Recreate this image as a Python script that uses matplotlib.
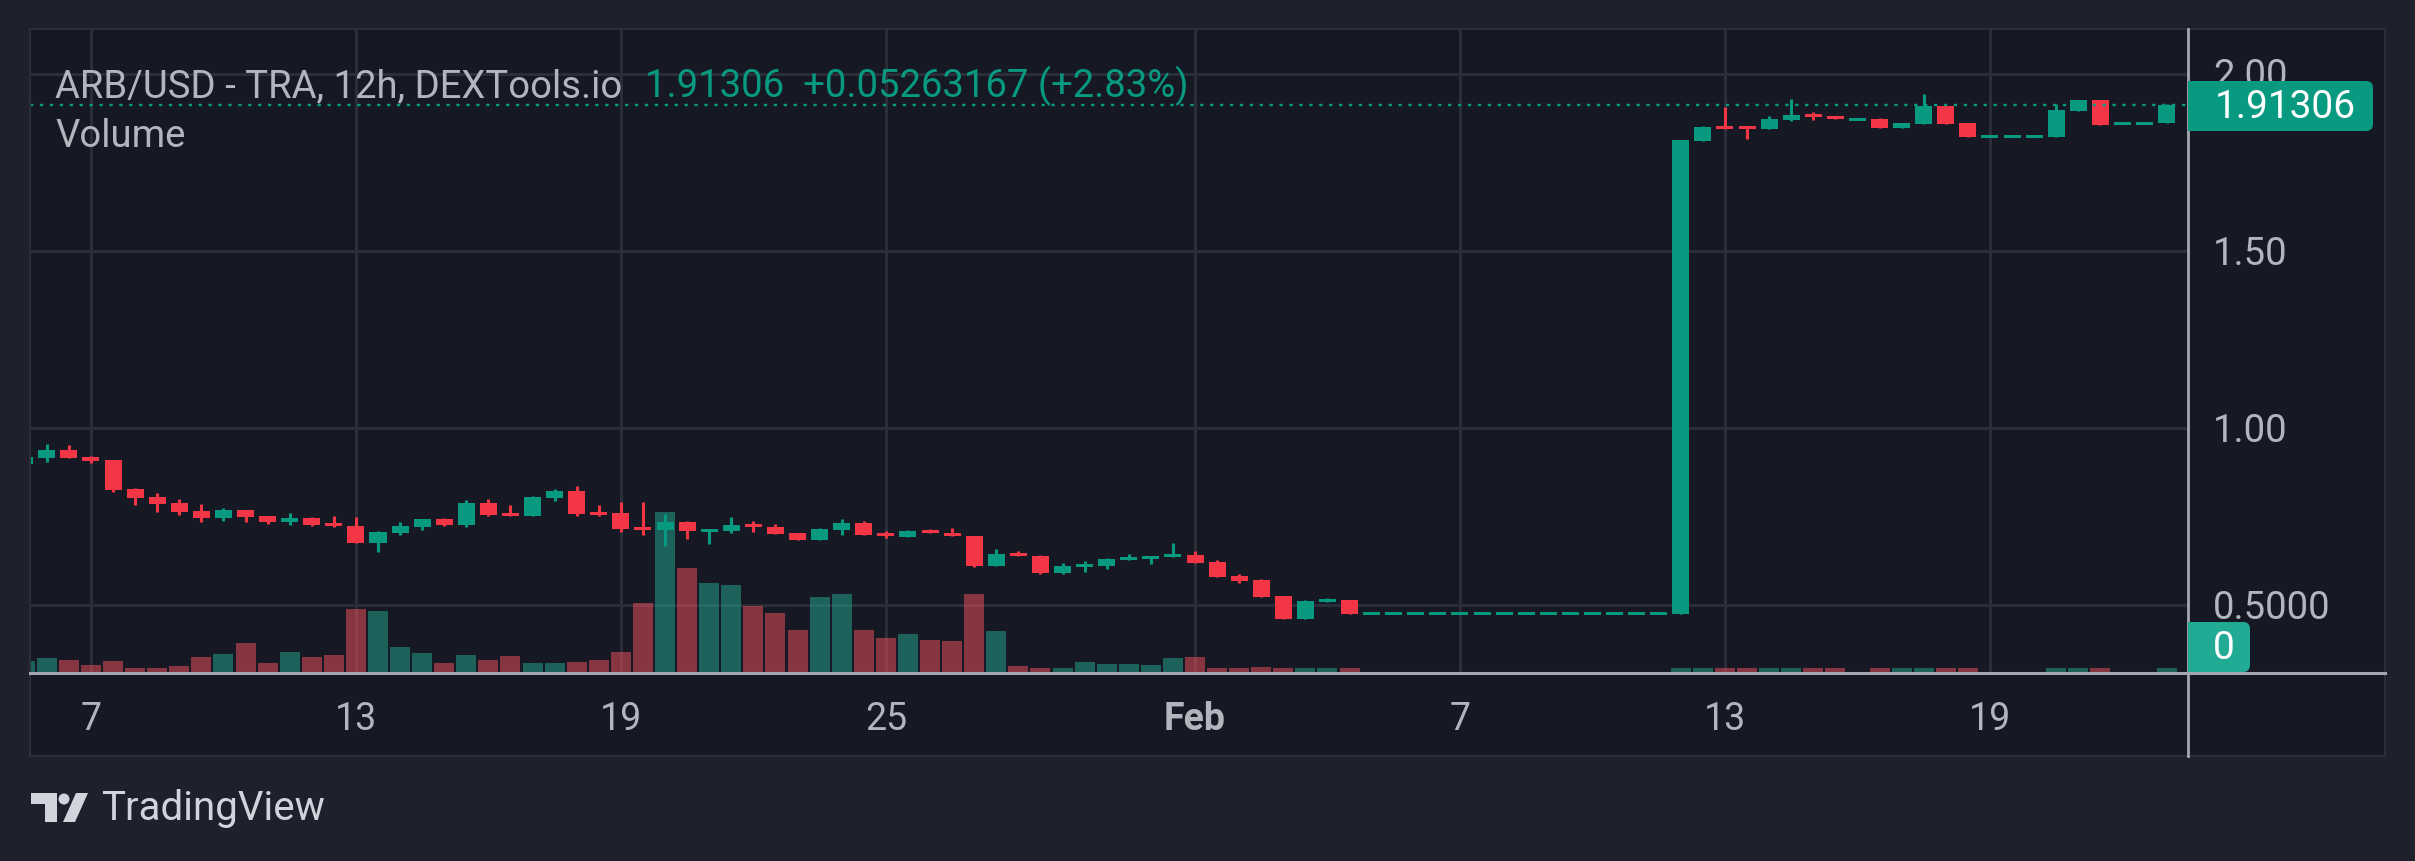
import numpy as np
import pandas as pd
import matplotlib
matplotlib.use('Agg')
import matplotlib.pyplot as plt
import matplotlib.dates as mdates
import matplotlib.transforms as mtransforms
from matplotlib.patches import Rectangle, FancyBboxPatch, Polygon, Circle
from matplotlib.lines import Line2D

# 12h candles, first one opens 2024-01-05 12:00
first_candle = '2024-01-05 12:00'

opens = [0.899, 0.916, 0.938,
         0.918, 0.910, 0.828, 0.805, 0.788, 0.766, 0.746, 0.768, 0.751, 0.735, 0.746, 0.732,
         0.723, 0.675, 0.703, 0.720, 0.743, 0.726, 0.788, 0.760, 0.751, 0.802, 0.822, 0.763,
         0.760, 0.720, 0.712, 0.735, 0.706, 0.709, 0.729, 0.720, 0.703, 0.684, 0.712, 0.732,
         0.703, 0.692, 0.712, 0.703, 0.695, 0.610, 0.647, 0.638, 0.590, 0.607, 0.610, 0.627,
         0.630, 0.636, 0.641, 0.622, 0.582, 0.571, 0.525, 0.461, 0.509, 0.514, 0.4755, 0.4755,
         0.4755, 0.4755, 0.4755, 0.4755, 0.4755, 0.4755, 0.4755, 0.4755, 0.4755, 0.4755, 0.4755, 0.4755,
         0.4755, 1.811, 1.853, 1.853, 1.845, 1.870, 1.887, 1.881, 1.872, 1.873, 1.848, 1.859,
         1.910, 1.862, 1.823, 1.823, 1.823, 1.822, 1.896, 1.927, 1.8604, 1.8604, 1.8604]

highs = [0.920, 0.955, 0.952,
         0.922, 0.911, 0.831, 0.816, 0.799, 0.785, 0.774, 0.769, 0.752, 0.760, 0.749, 0.751,
         0.749, 0.709, 0.735, 0.743, 0.746, 0.797, 0.799, 0.783, 0.808, 0.828, 0.836, 0.783,
         0.791, 0.791, 0.757, 0.737, 0.715, 0.749, 0.737, 0.729, 0.703, 0.718, 0.743, 0.737,
         0.709, 0.712, 0.715, 0.718, 0.695, 0.658, 0.653, 0.641, 0.619, 0.624, 0.633, 0.644,
         0.638, 0.675, 0.653, 0.627, 0.588, 0.573, 0.525, 0.514, 0.520, 0.514, 0.4755, 0.4755,
         0.4755, 0.4755, 0.4755, 0.4755, 0.4755, 0.4755, 0.4755, 0.4755, 0.4755, 0.4755, 0.4755, 0.4755,
         1.814, 1.853, 1.907, 1.853, 1.881, 1.929, 1.893, 1.881, 1.872, 1.876, 1.862, 1.944,
         1.910, 1.862, 1.823, 1.823, 1.823, 1.915, 1.927, 1.927, 1.8604, 1.8604, 1.915]

lows = [0.897, 0.905, 0.915,
        0.901, 0.819, 0.783, 0.763, 0.754, 0.735, 0.737, 0.735, 0.729, 0.726, 0.723, 0.720,
        0.674, 0.650, 0.698, 0.712, 0.723, 0.720, 0.751, 0.751, 0.751, 0.794, 0.751, 0.751,
        0.706, 0.698, 0.667, 0.686, 0.672, 0.703, 0.706, 0.700, 0.684, 0.684, 0.698, 0.698,
        0.689, 0.692, 0.703, 0.695, 0.607, 0.610, 0.638, 0.588, 0.588, 0.593, 0.602, 0.627,
        0.616, 0.636, 0.619, 0.579, 0.562, 0.523, 0.461, 0.461, 0.509, 0.475, 0.4755, 0.4755,
        0.4755, 0.4755, 0.4755, 0.4755, 0.4755, 0.4755, 0.4755, 0.4755, 0.4755, 0.4755, 0.4755, 0.4755,
        0.4755, 1.811, 1.845, 1.816, 1.845, 1.867, 1.870, 1.873, 1.872, 1.848, 1.848, 1.859,
        1.859, 1.822, 1.823, 1.823, 1.823, 1.822, 1.896, 1.856, 1.8604, 1.8604, 1.8604]

closes = [0.917, 0.938, 0.916,
          0.908, 0.825, 0.802, 0.785, 0.763, 0.746, 0.768, 0.749, 0.735, 0.746, 0.726, 0.723,
          0.675, 0.706, 0.723, 0.743, 0.726, 0.788, 0.754, 0.751, 0.805, 0.822, 0.757, 0.754,
          0.715, 0.712, 0.735, 0.709, 0.715, 0.726, 0.720, 0.701, 0.684, 0.715, 0.732, 0.698,
          0.695, 0.709, 0.703, 0.695, 0.610, 0.644, 0.638, 0.590, 0.610, 0.616, 0.630, 0.636,
          0.638, 0.644, 0.619, 0.579, 0.568, 0.523, 0.461, 0.511, 0.517, 0.475, 0.4755, 0.4755,
          0.4755, 0.4755, 0.4755, 0.4755, 0.4755, 0.4755, 0.4755, 0.4755, 0.4755, 0.4755, 0.4755, 0.4755,
          1.814, 1.850, 1.845, 1.845, 1.873, 1.884, 1.881, 1.876, 1.872, 1.848, 1.862, 1.910,
          1.859, 1.822, 1.823, 1.823, 1.823, 1.898, 1.927, 1.856, 1.8604, 1.8604, 1.91306]

# volume, thousand ARB
volume = [10, 13, 11,
          6, 10, 3, 3, 5, 14, 17, 28, 8, 19, 14, 16,
          62, 60, 24, 18, 8, 16, 11, 15, 8, 8, 9, 11,
          19, 68, 159, 103, 88, 86, 65, 58, 41, 74, 77, 41,
          33, 37, 31, 30, 77, 40, 5, 3, 3, 9, 7, 7,
          6, 13, 14, 3, 3, 4, 3, 3, 3, 3, 0, 0,
          0, 0, 0, 0, 0, 0, 0, 0, 0, 0, 0, 0,
          3, 3, 3, 3, 3, 3, 3, 3, 0, 3, 3, 3,
          3, 3, 0, 0, 0, 3, 3, 3, 0, 0, 3]

last_price = 1.91306
change = 0.05263167
change_pct = 2.83

price_ticks = [2.0, 1.5, 1.0, 0.5]
price_labels = ['2.00', '1.50', '1.00', '0.5000']
date_ticks = ['2024-01-07', '2024-01-13', '2024-01-19', '2024-01-25',
              '2024-02-01', '2024-02-07', '2024-02-13', '2024-02-19']
date_labels = ['7', '13', '19', '25', 'Feb', '7', '13', '19']

# colours
BG_OUT = '#1e212b'
BG = '#161923'
GRID = '#2a2e39'
AXIS = '#a5a8b0'
TXT = '#b2b5be'
UP = '#089981'
DOWN = '#f23645'
VUP = '#22ab94'
VDOWN = '#f7525f'

plt.rcParams['font.family'] = ['Roboto', 'DejaVu Sans']

W, H = 2415, 861
fig = plt.figure(figsize=(W / 100, H / 100), dpi=100, facecolor=BG_OUT)
# pixel coords measured from the top-left corner
PX = mtransforms.Affine2D().scale(1.0 / W, -1.0 / H).translate(0, 1) + fig.transFigure

# chart panel
fig.add_artist(Rectangle((30, 29), 2355, 727, transform=PX, facecolor=BG,
                         edgecolor='none', zorder=-1))

x_left, x_right, y_top, y_bot = 30, 2188, 29, 671.5
rect = [x_left / W, 1 - y_bot / H, (x_right - x_left) / W, (y_bot - y_top) / H]
ax_v = fig.add_axes(rect, zorder=0)
ax = fig.add_axes(rect, zorder=1, sharex=ax_v)
ax_v.set_facecolor(BG)
ax.set_facecolor('none')
for a in (ax, ax_v):
    for s in a.spines.values():
        s.set_visible(False)
    a.set_xticks([])
    a.set_yticks([])

times = pd.date_range(first_candle, periods=len(opens), freq='12h')
x = mdates.date2num(times)
o = np.array(opens)
h = np.array(highs)
l = np.array(lows)
c = np.array(closes)
vol = np.array(volume)

ax_v.set_xlim(x[0] + 0.12, x[-1] + 0.485)
ax.set_ylim(0.3122, 2.1271)
ax_v.set_ylim(0, vol.max() * 4.04)

# grid (under the translucent volume bars)
for d in date_ticks:
    ax_v.axvline(mdates.datestr2num(d), color=GRID, lw=2.2, zorder=0)
gtrans = mtransforms.blended_transform_factory(ax_v.transAxes, ax.transData)
for p in price_ticks:
    ax_v.plot([0, 1], [p, p], transform=gtrans, color=GRID, lw=2.2, zorder=0)

up = c >= o
ax_v.bar(x, vol, width=0.453, color=np.where(up, VUP, VDOWN), alpha=0.5,
         linewidth=0, zorder=1)

# candles
px_per_unit = (y_bot - y_top) / (2.1271 - 0.3122)
min_body = 3 / px_per_unit
col = np.where(up, UP, DOWN)
lo = np.minimum(o, c)
hi = np.maximum(o, c)
bh = hi - lo
mid = (lo + hi) / 2
small = bh < min_body
lo = np.where(small, mid - min_body / 2, lo)
bh = np.maximum(bh, min_body)
ax.vlines(x, l, h, colors=col, lw=2.2, zorder=3)
ax.bar(x, bh, bottom=lo, width=0.385, color=col, linewidth=0, zorder=4)

# last price line
ax.axhline(last_price, color=UP, lw=1.7, ls=(0, (1.4, 2.8)), zorder=5)

# axis lines
fig.add_artist(Line2D([2188, 2188], [29, 756], transform=PX, color=AXIS, lw=2.0, zorder=6))
fig.add_artist(Line2D([30, 2385], [673, 673], transform=PX, color=AXIS, lw=2.2, zorder=6))
fig.add_artist(Rectangle((30, 29), 2355, 727, transform=PX, facecolor='none',
                         edgecolor=GRID, lw=1.5, zorder=2))

# price scale labels
ptrans = mtransforms.offset_copy(
    mtransforms.blended_transform_factory(PX, ax.transData), fig=fig, y=-13.5, units='dots')
for p, lab in zip(price_ticks, price_labels):
    fig.text(2213, p, lab, transform=ptrans, color=TXT, fontsize=27.5,
             ha='left', va='baseline', zorder=7)

# time scale labels
ttrans = mtransforms.blended_transform_factory(ax.transData, PX)
for d, lab in zip(date_ticks, date_labels):
    fig.text(mdates.datestr2num(d), 730, lab, transform=ttrans, color=TXT,
             fontsize=27, ha='center', va='baseline',
             fontweight='bold' if lab == 'Feb' else 'normal', zorder=7)


def tag(x0, y0, x1, y1, color):
    fig.add_artist(Rectangle((x0, y0), (x1 - x0) - 12, y1 - y0, transform=PX,
                             facecolor=color, edgecolor='none', zorder=8))
    fig.add_artist(FancyBboxPatch((x0, y0), x1 - x0, y1 - y0,
                                  boxstyle='round,pad=0,rounding_size=7',
                                  transform=PX, facecolor=color, edgecolor='none', zorder=8))


tag(2188, 81, 2373, 131, UP)
fig.text(2215, 118, f'{last_price:.5f}', transform=PX, color='white',
         fontsize=28, ha='left', va='baseline', zorder=9)
tag(2188, 622, 2250, 672, VUP)
fig.text(2213, 659, '0', transform=PX, color='white',
         fontsize=28, ha='left', va='baseline', zorder=9)

# legend texts
fig.text(55, 97, 'ARB/USD - TRA, 12h, DEXTools.io', transform=PX, color=TXT,
         fontsize=27.5, ha='left', va='baseline', zorder=7)
fig.text(645, 97, f'{last_price:.5f}  +{change:.8f} (+{change_pct:.2f}%)', transform=PX,
         color=UP, fontsize=27.5, ha='left', va='baseline', zorder=7)
fig.text(55, 147, 'Volume', transform=PX, color=TXT, fontsize=27.5,
         ha='left', va='baseline', zorder=7)

# TradingView logo
LOGO = '#d1d4dc'
fig.add_artist(Polygon([(31, 793), (57, 793), (57, 822), (45, 822), (45, 804), (31, 804)],
                       closed=True, transform=PX, facecolor=LOGO, edgecolor='none'))
fig.add_artist(Circle((64, 799), 5.5, transform=PX, facecolor=LOGO, edgecolor='none'))
fig.add_artist(Polygon([(76, 793), (88, 793), (75, 822), (63, 822)],
                       closed=True, transform=PX, facecolor=LOGO, edgecolor='none'))
fig.text(101, 820, 'TradingView', transform=PX, color=LOGO, fontsize=29,
         ha='left', va='baseline')

fig.savefig('out.png', dpi=100, facecolor=BG_OUT)
